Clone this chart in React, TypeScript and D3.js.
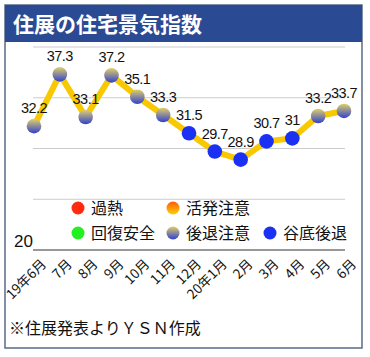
import React from "react";
import * as d3 from "d3";

const months = ["19年6月","7月","8月","9月","10月","11月","12月","20年1月","2月","3月","4月","5月","6月"];
const values = [32.2, 37.3, 33.1, 37.2, 35.1, 33.3, 31.5, 29.7, 28.9, 30.7, 31, 33.2, 33.7];
const statuses = ["caution","caution","caution","caution","caution","caution","bottom","bottom","bottom","bottom","bottom","caution","caution"];
const gridValues = [25, 30, 35, 40];
const legendRow1 = [{ key: "hot", label: "過熱" }, { key: "active", label: "活発注意" }];
const legendRow2 = [{ key: "recover", label: "回復安全" }, { key: "caution", label: "後退注意" }, { key: "bottom", label: "谷底後退" }];

const fillFor: Record<string, string> = {
  hot: "#ff2a10",
  active: "url(#gActive)",
  recover: "#22f020",
  caution: "url(#gCaution)",
  bottom: "#1a30f2",
};

export default function App() {
  const W = 370, H = 357;
  const x = d3.scalePoint<string>().domain(months).range([34, 344]);
  const y = d3.scaleLinear().domain([20, 40]).range([250, 47]);
  const line = d3.line<number>().x((_, i) => x(months[i])!).y((d) => y(d));
  const font = "'Liberation Sans', Arial, 'Noto Sans CJK JP', sans-serif";
  const jfont = "'Noto Sans CJK JP', sans-serif";
  const legX = [78, 173, 270];
  return (
    <svg width={W} height={H} style={{ position: "absolute", left: 0, top: 0 }}>
      <defs>
        <linearGradient id="gCaution" x1="0" y1="0" x2="0" y2="1">
          <stop offset="0" stopColor="#e0d068" />
          <stop offset="1" stopColor="#3040d0" />
        </linearGradient>
        <linearGradient id="gActive" x1="0" y1="0" x2="0" y2="1">
          <stop offset="0" stopColor="#ff5a10" />
          <stop offset="1" stopColor="#ffd000" />
        </linearGradient>
      </defs>
      <rect x={0} y={0} width={W} height={H} fill="#fff" />
      <rect x={5} y={5} width={357} height={343} fill="#fff" stroke="#5b6b8a" strokeWidth={1.5} />
      <rect x={5} y={5} width={357} height={37} fill="#2b4a94" />
      <text x={13} y={32} fill="#fff" fontSize={21} fontWeight="bold" fontFamily={jfont}>住展の住宅景気指数</text>
      {gridValues.map((g) => (
        <line key={g} x1={33} x2={345} y1={y(g)} y2={y(g)} stroke="#cccccc" strokeWidth={1} />
      ))}
      <line x1={33} x2={345} y1={y(20)} y2={y(20)} stroke="#333" strokeWidth={1.2} />
      <text x={33} y={247} textAnchor="end" fontSize={17} fontFamily={font} fill="#111">20</text>
      {legendRow1.map((d, i) => (
        <g key={d.key}>
          <circle cx={legX[i]} cy={208} r={6.5} fill={fillFor[d.key]} />
          <text x={legX[i] + 13} y={214} fontSize={16} fontFamily={jfont} fill="#111">{d.label}</text>
        </g>
      ))}
      {legendRow2.map((d, i) => (
        <g key={d.key}>
          <circle cx={legX[i]} cy={233} r={6.5} fill={fillFor[d.key]} />
          <text x={legX[i] + 13} y={239} fontSize={16} fontFamily={jfont} fill="#111">{d.label}</text>
        </g>
      ))}
      <path d={line(values)!} fill="none" stroke="#f8c800" strokeWidth={6} strokeLinejoin="round" />
      {values.map((v, i) => (
        <circle key={i} cx={x(months[i])!} cy={y(v)} r={7.3} fill={fillFor[statuses[i]]} />
      ))}
      {values.map((v, i) => (
        <text key={"l" + i} x={x(months[i])!} y={y(v) - 13} textAnchor="middle" fontSize={14.5} fontFamily={font} fill="#111" letterSpacing={-0.5}>{String(v)}</text>
      ))}
      {months.map((m, i) => (
        <text key={"m" + i} transform={`translate(${x(m)! + 13},${265}) rotate(-45)`} textAnchor="end" fontSize={13.5} fontFamily={jfont} fill="#111">{m}</text>
      ))}
      <text x={9} y={334} fontSize={16} fontFamily={jfont} fill="#111">※住展発表よりＹＳＮ作成</text>
    </svg>
  );
}
